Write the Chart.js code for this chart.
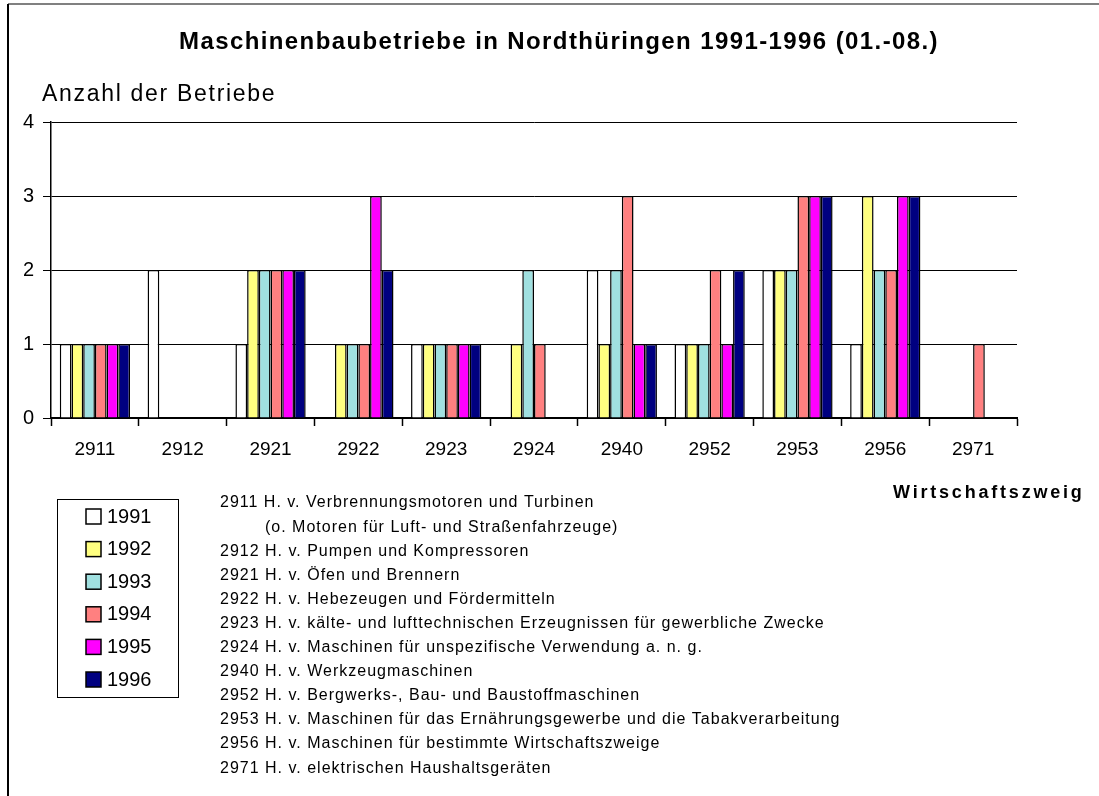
<!DOCTYPE html>
<html>
<head>
<meta charset="utf-8">
<script src="https://cdn.jsdelivr.net/npm/chart.js@4.4.0/dist/chart.umd.min.js"></script>
<style>
  body { margin: 0; background: #fff; }
  #wrap { width: 1099px; height: 796px; position: relative; }
</style>
</head>
<body>
<div id="wrap"><canvas id="chart1" width="1099" height="796"></canvas></div>
<script>
// DATA
let categories = ['2911', '2912', '2921', '2922', '2923', '2924', '2940', '2952', '2953', '2956', '2971'];
let years = ['1991', '1992', '1993', '1994', '1995', '1996'];
let v1991 = [1, 2, 1, 0, 1, 0, 2, 1, 2, 1, 0];
let v1992 = [1, 0, 2, 1, 1, 1, 1, 1, 2, 3, 0];
let v1993 = [1, 0, 2, 1, 1, 2, 2, 1, 2, 2, 0];
let v1994 = [1, 0, 2, 1, 1, 1, 3, 2, 3, 2, 1];
let v1995 = [1, 0, 2, 3, 1, 0, 1, 1, 3, 3, 0];
let v1996 = [1, 0, 2, 2, 1, 0, 1, 2, 3, 3, 0];
let yTicks = [0, 1, 2, 3, 4];
let colors = ['#FFFFFF', '#FFFF80', '#A0E0E0', '#FF8080', '#FF00FF', '#000080'];
let descLines = [
    ['2911 H. v. Verbrennungsmotoren und Turbinen', 0],
    ['(o. Motoren für Luft- und Straßenfahrzeuge)', 1],
    ['2912 H. v. Pumpen und Kompressoren', 0],
    ['2921 H. v. Öfen und Brennern', 0],
    ['2922 H. v. Hebezeugen und Fördermitteln', 0],
    ['2923 H. v. kälte- und lufttechnischen Erzeugnissen für gewerbliche Zwecke', 0],
    ['2924 H. v. Maschinen für unspezifische Verwendung a. n. g.', 0],
    ['2940 H. v. Werkzeugmaschinen', 0],
    ['2952 H. v. Bergwerks-, Bau- und Baustoffmaschinen', 0],
    ['2953 H. v. Maschinen für das Ernährungsgewerbe und die Tabakverarbeitung', 0],
    ['2956 H. v. Maschinen für bestimmte Wirtschaftszweige', 0],
    ['2971 H. v. elektrischen Haushaltsgeräten', 0]
];

let allValues = [v1991, v1992, v1993, v1994, v1995, v1996];
let FONT = "'Liberation Sans', Arial, sans-serif";

// datasets
let datasets = years.map((y, i) => ({
    label: y,
    data: allValues[i],
    backgroundColor: colors[i],
    borderColor: '#000000',
    borderWidth: 1.5,
    borderSkipped: 'bottom',
    categoryPercentage: 0.8,
    barPercentage: 1.0
}));

// text with letter spacing (falls back to plain text)
function spaced(ctx, txt, x, y, sp) {
    ctx.letterSpacing = sp + 'px';
    ctx.fillText(txt, x, y);
    ctx.letterSpacing = '0px';
}

// extra drawing : frame, titles, legend, description
let extras = {
    id: 'extras',
    afterDraw(chart) {
        let ctx = chart.ctx;
        ctx.save();
        // frame
        ctx.fillStyle = '#808080';
        ctx.fillRect(8, 3, 1091, 2);
        ctx.fillStyle = '#000';
        ctx.fillRect(7, 4, 2, 792);

        ctx.fillStyle = '#000';
        ctx.textBaseline = 'middle';
        // title
        ctx.font = 'bold 24px ' + FONT;
        ctx.textAlign = 'left';
        spaced(ctx, 'Maschinenbaubetriebe in Nordthüringen 1991-1996 (01.-08.)', 179, 42, 1.4);
        // y title
        ctx.font = '23px ' + FONT;
        spaced(ctx, 'Anzahl der Betriebe', 42, 95, 1.7);
        // x title
        ctx.font = 'bold 18px ' + FONT;
        spaced(ctx, 'Wirtschaftszweig', 893, 493, 2.8);

        // legend box
        ctx.strokeStyle = '#000';
        ctx.lineWidth = 1;
        ctx.strokeRect(57.5, 499.5, 121, 198);
        ctx.font = '20px ' + FONT;
        chart.data.datasets.forEach((ds, i) => {
            let cy = 516 + i * 32.6;
            ctx.fillStyle = ds.backgroundColor;
            ctx.fillRect(86, cy - 7, 15, 15);
            ctx.lineWidth = 1.5;
            ctx.strokeRect(86, cy - 7, 15, 15);
            ctx.fillStyle = '#000';
            ctx.fillText(ds.label, 107, cy + 1);
        });

        // description
        ctx.font = '16px ' + FONT;
        descLines.forEach((l, i) => {
            spaced(ctx, l[0], l[1] ? 265 : 220, 503 + i * 24.1, 1);
        });
        ctx.restore();
    }
};

let ctx = document.getElementById('chart1').getContext('2d');
let graph = new Chart(ctx, {
    type: 'bar',
    data: { labels: categories, datasets: datasets },
    options: {
        responsive: false,
        animation: false,
        layout: { padding: { top: 122, right: 82, left: 0, bottom: 0 } },
        plugins: {
            legend: { display: false },
            title: { display: false },
            tooltip: { enabled: false }
        },
        scales: {
            x: {
                grid: { offset: true, drawOnChartArea: false, drawTicks: true, tickLength: 8, tickColor: '#000', tickWidth: 1.5 },
                border: { color: '#000', width: 2 },
                ticks: { color: '#000', font: { family: FONT, size: 19 }, padding: 12, maxRotation: 0 },
                afterFit(scale) { scale.height = 378; }
            },
            y: {
                min: 0,
                max: 4,
                afterBuildTicks(scale) { scale.ticks = yTicks.map(v => ({ value: v })); },
                grid: { color: '#000', lineWidth: 1, tickLength: 8, tickColor: '#000' },
                border: { color: '#000', width: 1.5 },
                ticks: { color: '#000', font: { family: FONT, size: 20 }, padding: 9 },
                afterFit(scale) { scale.width = 51; }
            }
        }
    },
    plugins: [extras]
});
</script>
</body>
</html>
